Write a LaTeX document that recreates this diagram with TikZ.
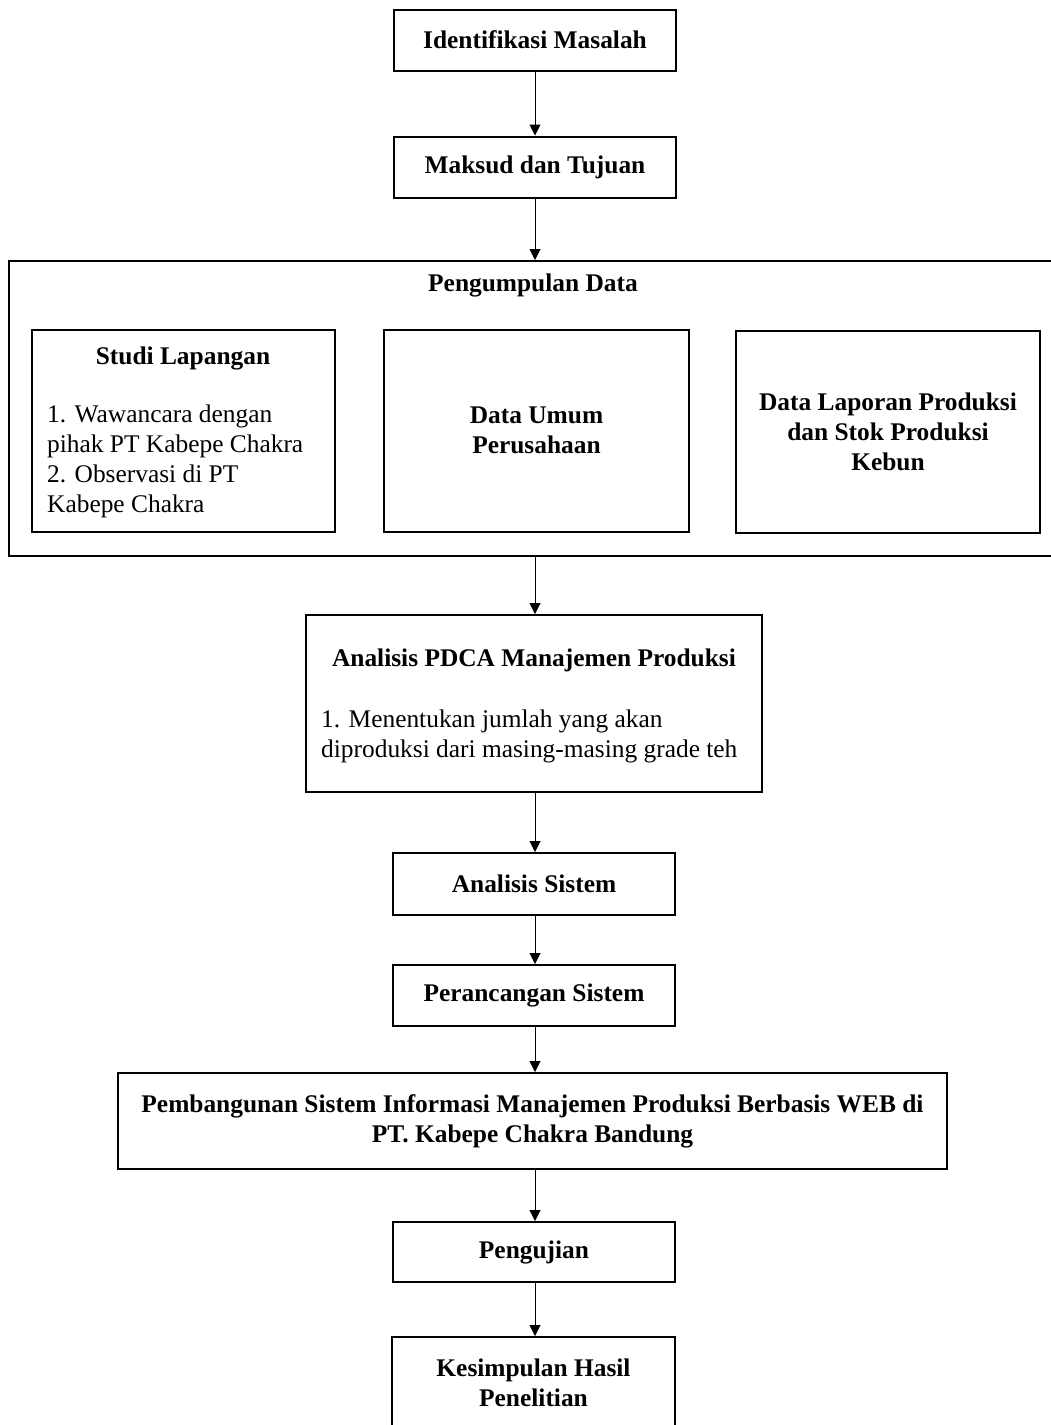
\documentclass[tikz,border=0pt]{standalone}
\usepackage{fontspec}
\setmainfont{Liberation Serif}
\usetikzlibrary{arrows.meta}

\begin{document}
\begin{tikzpicture}[x=1pt,y=-1pt,
    box/.style={draw,line width=2pt,rectangle,inner sep=0pt,align=center,
      font=\fontsize{25.4pt}{30pt}\selectfont\bfseries},
    head/.style={inner sep=0pt,align=center,font=\fontsize{25.4pt}{30pt}\selectfont\bfseries},
    list/.style={inner sep=0pt,align=left,anchor=west,font=\fontsize{25.4pt}{30pt}\selectfont},
    arr/.style={-{Triangle[length=11pt,width=11pt]},line width=1pt}]
    \useasboundingbox (0,0) rectangle (1051,1425);
    \clip (0,0) rectangle (1051,1425);
    \coordinate (ax) at (535,0);

    \node[box,minimum width=282pt,minimum height=61pt] (idm) at (535,40) {Identifikasi Masalah};
    \node[box,minimum width=282pt,minimum height=61pt] (mt) at (535,167) {Maksud dan Tujuan};

    % pengumpulan data
    \node[box,minimum width=1061pt,minimum height=295pt] (pd) at (539.5,408.5) {};
    \node[head] (pdt) at (533,285) {Pengumpulan Data};
    \node[box,minimum width=303pt,minimum height=202pt] (studi) at (183,430.5) {};
    \node[head] (studit) at (183,358) {Studi Lapangan};
    \node[list] (studil) at (47,461) {1. Wawancara dengan\\pihak PT Kabepe Chakra\\2. Observasi di PT\\Kabepe Chakra};
    \node[box,minimum width=305pt,minimum height=202pt] (umum) at (536.5,430.5) {Data Umum\\Perusahaan};
    \node[box,minimum width=304pt,minimum height=202pt] (lap) at (888,432) {Data Laporan Produksi\\dan Stok Produksi\\Kebun};

    % analisis
    \node[box,minimum width=456pt,minimum height=177pt] (pdca) at (534,703.5) {};
    \node[head] (pdcat) at (534,660) {Analisis PDCA Manajemen Produksi};
    \node[list] (pdcal) at (321,736) {1. Menentukan jumlah yang akan\\diproduksi dari masing-masing grade teh};
    \node[box,minimum width=282pt,minimum height=62pt] (as) at (534,884) {Analisis Sistem};
    \node[box,minimum width=282pt,minimum height=61pt] (ps) at (534,995.5) {Perancangan Sistem};
    \node[box,minimum width=829pt,minimum height=96pt] (pb) at (532.5,1121) {Pembangunan Sistem Informasi Manajemen Produksi Berbasis WEB di\\PT. Kabepe Chakra Bandung};
    \node[box,minimum width=282pt,minimum height=60pt] (pu) at (534,1252) {Pengujian};
    \node[box,minimum width=283pt,minimum height=106pt] (ks) at (533.5,1390) {};
    \node[head] (kst) at (533.5,1383) {Kesimpulan Hasil\\Penelitian};

    \foreach \a/\b in {idm/mt, mt/pd, pd/pdca, pdca/as, as/ps, ps/pb, pb/pu, pu/ks}
      \draw[arr] (\a.south -| ax) -- (\b.north -| ax);
\end{tikzpicture}
\end{document}
